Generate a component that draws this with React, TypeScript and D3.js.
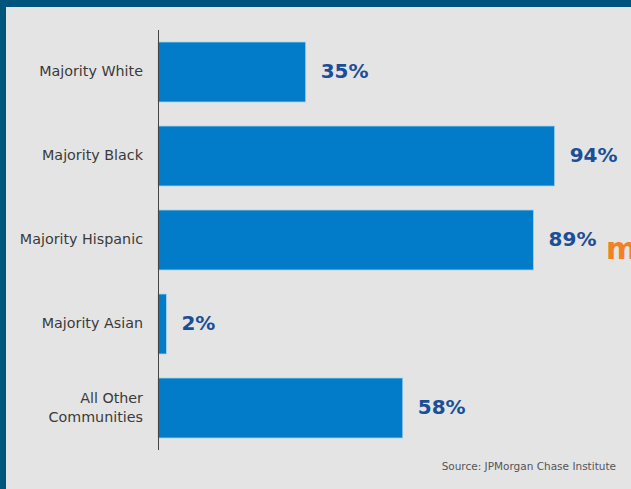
import React from "react";
import * as d3 from "d3";

const categories = ["Majority White", "Majority Black", "Majority Hispanic", "Majority Asian", "All Other\nCommunities"];
const values = [35, 94, 89, 2, 58];
const source = "Source: JPMorgan Chase Institute";

export default function App() {
  const W = 631, H = 489;
  const x = d3.scaleLinear().domain([0, 100]).range([158, 580]);
  const y = d3.scaleBand().domain(categories).range([30, 450]).paddingInner(0.286).paddingOuter(0.143);
  const font = "'DejaVu Sans', Verdana, sans-serif";
  return (
    <svg width={W} height={H} style={{ position: "absolute", left: 0, top: 0 }} fontFamily={font}>
      <rect x={0} y={0} width={W} height={H} fill="#e4e4e4" />
      <rect x={0} y={0} width={W} height={7} fill="#00557c" />
      <rect x={0} y={0} width={6} height={H} fill="#00557c" />
      {categories.map((c, i) => {
        const y0 = y(c)!;
        const bh = y.bandwidth();
        const lines = c.split("\n");
        const cy = y0 + bh / 2;
        return (
          <g key={c}>
            <rect x={x(0)} y={y0} width={x(values[i]) - x(0)} height={bh} fill="#027bc9" stroke="#a9d3ee" strokeWidth={0.8} />
            <text x={x(values[i]) + 15} y={cy - 1} dy="0.35em" fontSize={20} fontWeight={700} fill="#1a4f97">{values[i]}%</text>
            {lines.map((l, j) => (
              <text key={j} x={143} y={cy - 1 + (j - (lines.length - 1) / 2) * 19} dy="0.35em" textAnchor="end" fontSize={14.3} fill="#3a3a3a">{l}</text>
            ))}
          </g>
        );
      })}
      <line x1={158.5} x2={158.5} y1={30} y2={450} stroke="#444" strokeWidth={1} />
      <text x={606} y={259} fontSize={30} fontWeight={700} fill="#f48024">m</text>
      <text x={616} y={466} dy="0.35em" textAnchor="end" fontSize={10.5} fill="#555">{source}</text>
    </svg>
  );
}
